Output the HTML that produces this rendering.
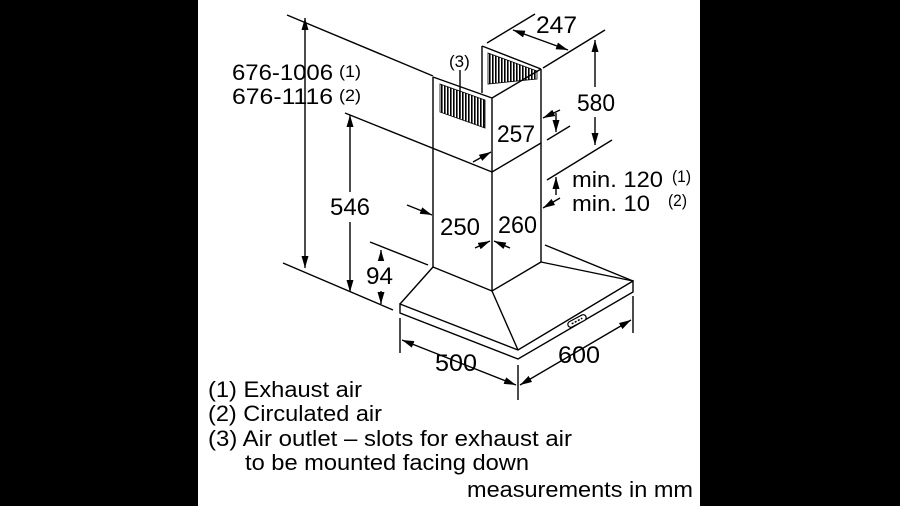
<!DOCTYPE html>
<html><head><meta charset="utf-8"><style>
html,body{margin:0;padding:0;background:#000;}
svg{display:block}
text{font-family:"Liberation Sans",Arial,sans-serif;fill:#000}
</style></head><body>
<svg width="900" height="506" viewBox="0 0 900 506" xmlns="http://www.w3.org/2000/svg">
<defs>
<marker id="a" viewBox="0 0 12 7" refX="12" refY="3.5" markerWidth="12" markerHeight="7" orient="auto-start-reverse" markerUnits="userSpaceOnUse"><path d="M0,0 L12,3.5 L0,7 z" fill="#000"/></marker>
<pattern id="v" width="3" height="10" patternUnits="userSpaceOnUse"><rect width="1.6" height="10" fill="#000"/></pattern>
</defs>
<rect x="0" y="0" width="900" height="506" fill="#000"/>
<rect x="198" y="0" width="502" height="506" fill="#fff"/>
<g stroke="#000" stroke-width="1.4" fill="none">
<line x1="433" y1="77" x2="433" y2="267"/>
<line x1="492" y1="98" x2="492" y2="291"/>
<line x1="541" y1="69" x2="541" y2="262"/>
<line x1="482" y1="46" x2="482" y2="93"/>
<line x1="482" y1="46" x2="541" y2="69"/>
<line x1="433" y1="77" x2="492" y2="98"/>
<line x1="492" y1="98" x2="541" y2="69"/>
<line x1="492" y1="172" x2="541" y2="143"/>
<path d="M433,267 L492,291 L541,262"/>
<path d="M400,304 L518,350 L633,281 L633,292 L518,359 L400,313 Z"/>
<line x1="433" y1="267" x2="400" y2="304"/>
<line x1="492" y1="291" x2="518" y2="350"/>
<line x1="541" y1="262" x2="633" y2="281"/>
<line x1="545" y1="245" x2="633" y2="281"/>
<line x1="287" y1="15" x2="433" y2="76"/>
<line x1="345" y1="113" x2="492" y2="172"/>
<line x1="283" y1="263" x2="393" y2="310"/>
<line x1="370" y1="242" x2="428" y2="265"/>
<line x1="487" y1="43" x2="535" y2="14"/>
<line x1="543" y1="68" x2="605" y2="30"/>
<line x1="547" y1="180" x2="612" y2="140"/>
<line x1="547" y1="140" x2="570" y2="126"/>
<line x1="400" y1="318" x2="400" y2="353"/>
<line x1="518" y1="365" x2="518" y2="400"/>
<line x1="633" y1="296" x2="633" y2="333"/>
<line x1="460" y1="70" x2="460" y2="118"/>
<line x1="305" y1="18" x2="305" y2="268" marker-start="url(#a)" marker-end="url(#a)"/>
<line x1="350" y1="115" x2="350" y2="292" marker-start="url(#a)" marker-end="url(#a)"/>
<line x1="381" y1="250" x2="381" y2="304" marker-start="url(#a)" marker-end="url(#a)"/>
<line x1="513" y1="30" x2="568" y2="50" marker-start="url(#a)" marker-end="url(#a)"/>
<line x1="595" y1="40" x2="595" y2="145" marker-start="url(#a)" marker-end="url(#a)"/>
<line x1="402" y1="340" x2="516" y2="385" marker-start="url(#a)" marker-end="url(#a)"/>
<line x1="520" y1="385" x2="631" y2="320" marker-start="url(#a)" marker-end="url(#a)"/>
<line x1="560" y1="110" x2="543" y2="118" marker-end="url(#a)"/>
<line x1="556" y1="113" x2="556" y2="132" marker-end="url(#a)"/>
<line x1="473" y1="162" x2="491" y2="152" marker-end="url(#a)"/>
<line x1="556" y1="195" x2="556" y2="177" marker-end="url(#a)"/>
<line x1="560" y1="198" x2="543" y2="208" marker-end="url(#a)"/>
<line x1="407" y1="205" x2="432" y2="215" marker-end="url(#a)"/>
<line x1="475" y1="248" x2="490" y2="241" marker-end="url(#a)"/>
<line x1="510" y1="248" x2="494" y2="241" marker-end="url(#a)"/>
</g>
<polygon points="440,84 485,100 485,128 440,112" fill="url(#v)" stroke="#000" stroke-width="0.8"/>
<polygon points="488,53 537,71 537,79 488,84" fill="url(#v)" stroke="#000" stroke-width="0.8"/>
<g transform="translate(577,321) rotate(-28)"><rect x="-10" y="-3" width="20" height="6" rx="3" fill="#fff" stroke="#000" stroke-width="1.2"/><line x1="-6" y1="0" x2="6" y2="0" stroke="#000" stroke-width="1.5" stroke-dasharray="2,1.5"/></g>
<rect x="328" y="192" width="44" height="30" fill="#fff"/>
<rect x="364" y="261" width="30" height="30" fill="#fff"/>
<rect x="575" y="87" width="42" height="30" fill="#fff"/>
<g font-size="22">
<text x="232" y="80" textLength="101" lengthAdjust="spacingAndGlyphs">676-1006</text><text x="339" y="77" font-size="17" textLength="22" lengthAdjust="spacingAndGlyphs">(1)</text>
<text x="232" y="104" textLength="101" lengthAdjust="spacingAndGlyphs">676-1116</text><text x="339" y="101" font-size="17" textLength="22" lengthAdjust="spacingAndGlyphs">(2)</text>
</g>
<g font-size="24">
<text x="330" y="215" textLength="40" lengthAdjust="spacingAndGlyphs">546</text>
<text x="366" y="284" textLength="27" lengthAdjust="spacingAndGlyphs">94</text>
<text x="536" y="33" textLength="41" lengthAdjust="spacingAndGlyphs">247</text>
<text x="577" y="111" textLength="38" lengthAdjust="spacingAndGlyphs">580</text>
<text x="497" y="142" textLength="38" lengthAdjust="spacingAndGlyphs">257</text>
<text x="440" y="235" textLength="40" lengthAdjust="spacingAndGlyphs">250</text>
<text x="498" y="233" textLength="39" lengthAdjust="spacingAndGlyphs">260</text>
<text x="435" y="371" textLength="42" lengthAdjust="spacingAndGlyphs">500</text>
<text x="558" y="363" textLength="42" lengthAdjust="spacingAndGlyphs">600</text>
</g>
<g font-size="22">
<text x="572" y="187" textLength="91" lengthAdjust="spacingAndGlyphs">min. 120</text><text x="672" y="182" font-size="17" textLength="19" lengthAdjust="spacingAndGlyphs">(1)</text>
<text x="572" y="211" textLength="78" lengthAdjust="spacingAndGlyphs">min. 10</text><text x="668" y="206" font-size="17" textLength="19" lengthAdjust="spacingAndGlyphs">(2)</text>
<text x="449" y="67" font-size="17">(3)</text>
<text x="208" y="397" textLength="154" lengthAdjust="spacingAndGlyphs">(1) Exhaust air</text>
<text x="208" y="421" textLength="174" lengthAdjust="spacingAndGlyphs">(2) Circulated air</text>
<text x="208" y="446" textLength="364" lengthAdjust="spacingAndGlyphs">(3) Air outlet – slots for exhaust air</text>
<text x="245" y="470" textLength="284" lengthAdjust="spacingAndGlyphs">to be mounted facing down</text>
<text x="467" y="497" textLength="226" lengthAdjust="spacingAndGlyphs">measurements in mm</text>
</g>
</svg>
</body></html>
